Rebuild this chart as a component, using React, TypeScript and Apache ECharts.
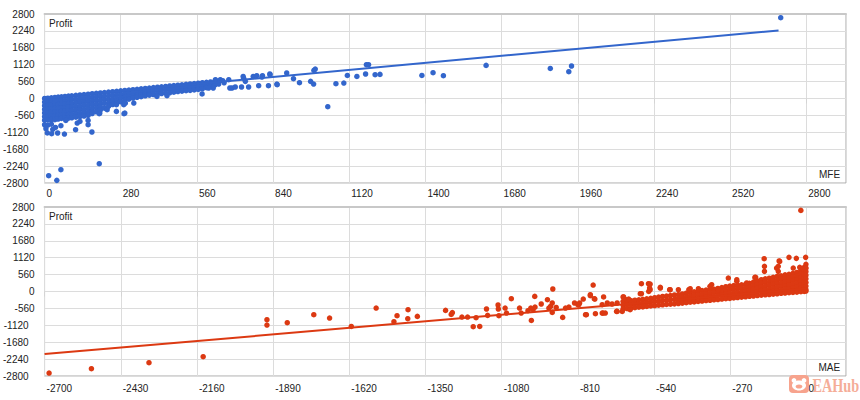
import React, { useEffect, useRef } from 'react';
import * as echarts from 'echarts';

const profitTicks = [-2800, -2240, -1680, -1120, -560, 0, 560, 1120, 1680, 2240, 2800];
const mfeTicks = [0, 280, 560, 840, 1120, 1400, 1680, 1960, 2240, 2520, 2800];
const maeTicks = [-2700, -2430, -2160, -1890, -1620, -1350, -1080, -810, -540, -270, 0];
const mfeMax = 2946;
const maeMax = 140;

// MFE dense cloud: [MFE, profits...]
const mfeCloud: [number, number[]][] = [
  [0, [0, -120, -240, -360, -480, -600, -720, -870]],
  [12, [10, -110, -230, -350, -470, -590, -710, -880]],
  [25, [22, -100, -220, -340, -460, -580, -700, -850]],
  [38, [34, -90, -210, -330, -450, -570, -700]],
  [50, [45, -80, -200, -320, -440, -560, -680]],
  [62, [56, -70, -190, -310, -430, -550, -660]],
  [75, [68, -60, -180, -300, -420, -540, -640]],
  [88, [79, -50, -170, -290, -410, -530, -650]],
  [100, [90, -40, -160, -280, -400, -520, -640]],
  [115, [104, -20, -140, -260, -380, -500, -620]],
  [130, [117, -10, -130, -250, -370, -490, -600]],
  [145, [130, 10, -110, -230, -350, -470, -580]],
  [160, [144, 20, -100, -220, -340, -460, -560]],
  [175, [158, 40, -80, -200, -320, -420, -500]],
  [190, [171, 50, -70, -190, -310, -440]],
  [205, [185, 60, -60, -180, -280, -380]],
  [220, [198, 80, -40, -160, -320]],
  [235, [212, 90, -30, -150, -260]],
  [250, [225, 110, -10, -110, -200]],
  [265, [238, 120, 0, -80, -160]],
  [280, [252, 130, 20, -110]],
  [295, [266, 150, 40, -60]],
  [310, [279, 160, 60, -20]],
  [325, [292, 180, 80, 10]],
  [340, [306, 190, 100, 40]],
  [355, [320, 220, 130, 60]],
  [370, [333, 230, 150, 90]],
  [385, [346, 240, 160, 110]],
  [400, [360, 250, 130]],
  [415, [373, 260, 150]],
  [430, [387, 280, 165]],
  [445, [400, 290, 175]],
  [460, [414, 300, 190]],
  [475, [427, 320, 210]],
  [490, [441, 330, 230]],
  [505, [454, 350, 245]],
  [520, [468, 360, 260]],
  [535, [481, 370, 270]],
  [550, [495, 390, 285]],
  [565, [508, 400, 300]],
  [580, [522, 420, 320]],
  [595, [535, 440, 360]],
  [610, [549, 470, 400]],
  [625, [562, 500, 440]],
  [640, [576, 480]],
];

const mfeOutliers: [number, number][] = [
  [15, -2558], [45, -2713], [60, -2359], [201, -2160],
  [5, -1000], [10, -1140], [26, -1166], [48, -1143], [73, -1177], [40, -960], [60, -900], [30, -1020],
  [78, -725], [114, -1034], [120, -813], [130, -758], [160, -725], [160, -868], [174, -1110],
  [201, -504], [203, -482], [230, -370], [264, -427], [264, -205], [292, -504], [295, -482],
  [291, -205], [297, -150], [328, -150], [413, 70], [450, 93], [579, 150], [620, 348], [603, 348],
  [628, 623], [646, 623], [655, 590], [660, 520], [677, 623], [681, 348], [689, 348], [701, 381],
  [724, 381], [732, 667], [738, 568], [750, 381], [730, 732], [767, 732], [780, 756], [787, 425],
  [801, 756], [799, 712], [823, 425], [828, 812], [829, 789], [854, 480], [855, 457], [890, 845],
  [915, 656], [937, 523], [978, 567], [989, 480], [990, 931], [995, 977], [1041, -272], [1071, 490],
  [1100, 513], [1113, 765], [1148, 732], [1180, 812], [1183, 1120], [1191, 1120], [1215, 789],
  [1233, 799], [1387, 765], [1428, 855], [1466, 755], [1623, 1097], [1859, 997], [1927, 888],
  [1937, 1077], [2706, 2677],
];

// MAE dense cloud: [MAE, profits...]
const maeCloud: [number, number[]][] = [
  [-650, [-330, -450, -580]],
  [-636, [-320, -440, -565]],
  [-622, [-305, -430, -550]],
  [-608, [-290, -410, -535]],
  [-594, [-275, -400, -520]],
  [-580, [-260, -385, -510]],
  [-566, [-245, -370, -495]],
  [-552, [-225, -350, -480]],
  [-538, [-205, -335, -470]],
  [-524, [-185, -320, -455]],
  [-510, [-165, -300, -440]],
  [-496, [-150, -290, -430]],
  [-482, [-135, -275, -420]],
  [-468, [-115, -260, -410]],
  [-454, [-100, -220, -340, -400]],
  [-440, [-80, -200, -300, -385]],
  [-426, [-55, -180, -290, -370]],
  [-412, [-30, -150, -260, -355]],
  [-398, [-10, -130, -240, -345]],
  [-384, [10, -110, -220, -330]],
  [-370, [30, -90, -210, -315]],
  [-356, [45, -75, -190, -300]],
  [-342, [60, -60, -180, -290]],
  [-328, [75, -40, -160, -275]],
  [-314, [100, -20, -140, -265]],
  [-300, [130, 10, -110, -250]],
  [-286, [160, 40, -80, -180, -240]],
  [-272, [180, 60, -60, -150, -228]],
  [-258, [195, 80, -40, -130, -215]],
  [-244, [210, 90, -30, -120, -200]],
  [-230, [220, 100, -20, -110, -190]],
  [-216, [235, 120, 0, -100, -175]],
  [-202, [270, 150, 30, -80, -160]],
  [-188, [310, 190, 70, -50, -150]],
  [-174, [350, 230, 110, -10, -135]],
  [-160, [390, 270, 150, 30, -120]],
  [-146, [420, 300, 180, 60, -50, -110]],
  [-132, [440, 320, 200, 80, -30, -100]],
  [-118, [470, 350, 230, 110, 0, -90]],
  [-104, [500, 380, 260, 140, 20, -75]],
  [-90, [520, 400, 280, 160, 40, -60]],
  [-76, [550, 430, 310, 190, 70, -50]],
  [-62, [570, 450, 330, 210, 90, -40]],
  [-48, [600, 480, 360, 240, 120, 0, -30]],
  [-34, [630, 510, 390, 270, 150, 30, -20]],
  [-20, [700, 580, 460, 340, 220, 100, -5]],
  [-8, [800, 680, 560, 440, 320, 200, 80, 5]],
  [-2, [900, 780, 660, 540, 420, 300, 180, 60, 15]],
];

const maeOutliers: [number, number][] = [
  [-2684, -2702], [-2534, -2559], [-2330, -2360], [-2138, -2161], [-1912, -935], [-1912, -1111],
  [-1840, -1035], [-1746, -769], [-1690, -879], [-1613, -1157], [-1525, -548], [-1462, -1001],
  [-1451, -803], [-1413, -902], [-1412, -604], [-1379, -825], [-1279, -626], [-1259, -759],
  [-1255, -700], [-1221, -846], [-1201, -846], [-1181, -1167], [-1171, -868], [-1158, -1157],
  [-1134, -580], [-1130, -792], [-1093, -447], [-1092, -580], [-1090, -802], [-1068, -547],
  [-1063, -713], [-1046, -239], [-1017, -547], [-1011, -713], [-987, -636], [-977, -547],
  [-969, -603], [-975, -958], [-963, -162], [-962, -514], [-940, -414], [-918, -272], [-913, -547],
  [-907, -494], [-901, -381], [-899, 83], [-901, -692], [-887, -527], [-864, -858], [-854, -547],
  [-842, -514], [-822, -381], [-810, -437], [-804, -381], [-807, -437], [-791, -249], [-780, -769],
  [-783, -769], [-766, -139], [-766, -106], [-756, 215], [-750, -249], [-752, -239], [-748, -736],
  [-724, -713], [-721, -713], [-713, -713], [-719, -182], [-724, -437], [-706, -381], [-689, -414],
  [-671, -381], [-673, -659], [-671, -659], [-653, -659], [-650, -182], [-648, -182], [-636, -272],
  [-630, -249], [-625, -603], [-589, -73], [-585, -73], [-585, 259], [-560, 259], [-559, 3],
  [-556, 116], [-554, 248], [-554, 60], [-518, 116], [-518, 136], [-485, 60], [-483, 60],
  [-454, 60], [-417, 60], [-412, 93], [-383, 93], [-342, 170], [-336, 226], [-312, 60],
  [-277, 447], [-247, 337], [-247, 391], [-212, 282], [-183, 468], [-180, 469], [-150, 1087],
  [-149, 833], [-149, 667], [-106, 778], [-100, 833], [-100, 667], [-97, 1011], [-95, 998],
  [-62, 1131], [-47, 778], [-36, 1098], [-24, 800], [-12, 756], [-3, 1131], [-3, 766],
  [-20, 2688],
];

const mfeTrend: [number, number][] = [[0, 20], [2698, 2257]];
const maeTrend: [number, number][] = [[-2700, -2073], [0, 97]];

const BLUE = '#3366CC';
const RED = '#DC3912';
const FONT = 'Arial, "Liberation Sans", sans-serif';

function flatten(cloud: [number, number[]][], extra: [number, number][]): [number, number][] {
  const out: [number, number][] = [];
  cloud.forEach(([x, ys]) => ys.forEach((y) => out.push([x, y])));
  return out.concat(extra);
}

function xAxisFor(grid: number, ticks: number[], max: number, labelMargin: number) {
  return {
    gridIndex: grid,
    type: 'value',
    min: ticks[0],
    max,
    interval: ticks[1] - ticks[0],
    axisLine: { show: false },
    axisTick: { show: true, length: 5, lineStyle: { color: '#d4d4d4' } },
    axisLabel: {
      showMaxLabel: false,
      align: 'left',
      margin: labelMargin,
      fontSize: 10,
      color: '#222',
      fontFamily: FONT,
      padding: [0, 0, 0, 2],
      formatter: (v: number) => String(v),
    },
    splitLine: { show: true, lineStyle: { color: '#dcdcdc', width: 1 } },
  };
}

function zeroAxisFor(grid: number, ticks: number[], max: number) {
  return {
    gridIndex: grid,
    type: 'value',
    min: ticks[0],
    max,
    axisLine: { show: true, onZero: true, lineStyle: { color: '#c8c8c8', width: 2 } },
    axisTick: { show: false },
    axisLabel: { show: false },
    splitLine: { show: false },
  };
}

function yAxisFor(grid: number) {
  return {
    gridIndex: grid,
    type: 'value',
    min: profitTicks[0],
    max: profitTicks[profitTicks.length - 1],
    interval: profitTicks[1] - profitTicks[0],
    axisLine: { show: false },
    axisTick: { show: false },
    axisLabel: {
      margin: 10,
      fontSize: 10,
      color: '#222',
      fontFamily: FONT,
      formatter: (v: number) => {
        const s = String(v);
        return s.length >= 5 ? `{w|${s}}` : s;
      },
      rich: { w: { padding: [0, 6, 0, 0], fontSize: 10, color: '#222', fontFamily: FONT } },
    },
    splitLine: { show: true, lineStyle: { color: '#dcdcdc', width: 1 } },
  };
}

export default function App() {
  const ref = useRef<HTMLDivElement>(null);

  useEffect(() => {
    document.body.style.margin = '0';
    if (!ref.current) return;
    const chart = echarts.init(ref.current, undefined, { renderer: 'svg' });
    const gridBase = { left: 42, width: 804, height: 169, show: true, borderColor: '#a8a8a8', borderWidth: 1, backgroundColor: 'transparent' };
    chart.setOption({
      animation: false,
      textStyle: { fontFamily: FONT },
      grid: [
        { ...gridBase, top: 14 },
        { ...gridBase, top: 207 },
      ],
      xAxis: [
        xAxisFor(0, mfeTicks, mfeMax, 5),
        xAxisFor(1, maeTicks, maeMax, 7),
        zeroAxisFor(0, mfeTicks, mfeMax),
        zeroAxisFor(1, maeTicks, maeMax),
      ],
      yAxis: [yAxisFor(0), yAxisFor(1)],
      series: [
        {
          type: 'scatter', xAxisIndex: 0, yAxisIndex: 0, symbolSize: 5.5,
          itemStyle: { color: BLUE, opacity: 1 }, data: flatten(mfeCloud, mfeOutliers), z: 2,
        },
        {
          type: 'line', xAxisIndex: 0, yAxisIndex: 0, data: mfeTrend, showSymbol: false, symbol: 'none',
          lineStyle: { color: BLUE, width: 2 }, z: 3, silent: true,
        },
        {
          type: 'scatter', xAxisIndex: 1, yAxisIndex: 1, symbolSize: 5.5,
          itemStyle: { color: RED, opacity: 1 }, data: flatten(maeCloud, maeOutliers), z: 2,
        },
        {
          type: 'line', xAxisIndex: 1, yAxisIndex: 1, data: maeTrend, showSymbol: false, symbol: 'none',
          lineStyle: { color: RED, width: 2 }, z: 3, silent: true,
        },
      ],
      graphic: [
        { type: 'text', x: 49, y: 23, style: { text: 'Profit', fontSize: 10, fill: '#222', fontFamily: FONT, verticalAlign: 'middle' } },
        { type: 'text', x: 49, y: 216.5, style: { text: 'Profit', fontSize: 10, fill: '#222', fontFamily: FONT, verticalAlign: 'middle' } },
        { type: 'text', x: 819, y: 174.5, style: { text: 'MFE', fontSize: 10, fill: '#222', fontFamily: FONT, verticalAlign: 'middle' } },
        { type: 'text', x: 818.5, y: 367.5, style: { text: 'MAE', fontSize: 10, fill: '#222', fontFamily: FONT, verticalAlign: 'middle' } },
        { type: 'rect', shape: { x: 789, y: 375, width: 20, height: 18, r: 4 }, style: { fill: '#f7a38d' }, z: 100 },
        { type: 'circle', shape: { cx: 794, cy: 380.5, r: 2.4 }, style: { fill: '#fff' }, z: 101 },
        { type: 'circle', shape: { cx: 804, cy: 380.5, r: 2.4 }, style: { fill: '#fff' }, z: 101 },
        { type: 'ellipse', shape: { cx: 799, cy: 385.5, rx: 7, ry: 5 }, style: { fill: '#fff' }, z: 102 },
        { type: 'ellipse', shape: { cx: 799, cy: 386.5, rx: 3.4, ry: 2.1 }, style: { fill: '#f7a38d' }, z: 103 },
        {
          type: 'text', x: 812.5, y: 385.5, scaleX: 0.75, z: 100,
          style: { text: 'EAHub', fontSize: 19, fontWeight: 'bold', fontFamily: '"Liberation Serif", serif', fill: '#f5ad98', verticalAlign: 'middle' },
        },
      ],
    });
    return () => chart.dispose();
  }, []);

  return <div ref={ref} style={{ width: 860, height: 400 }} />;
}
